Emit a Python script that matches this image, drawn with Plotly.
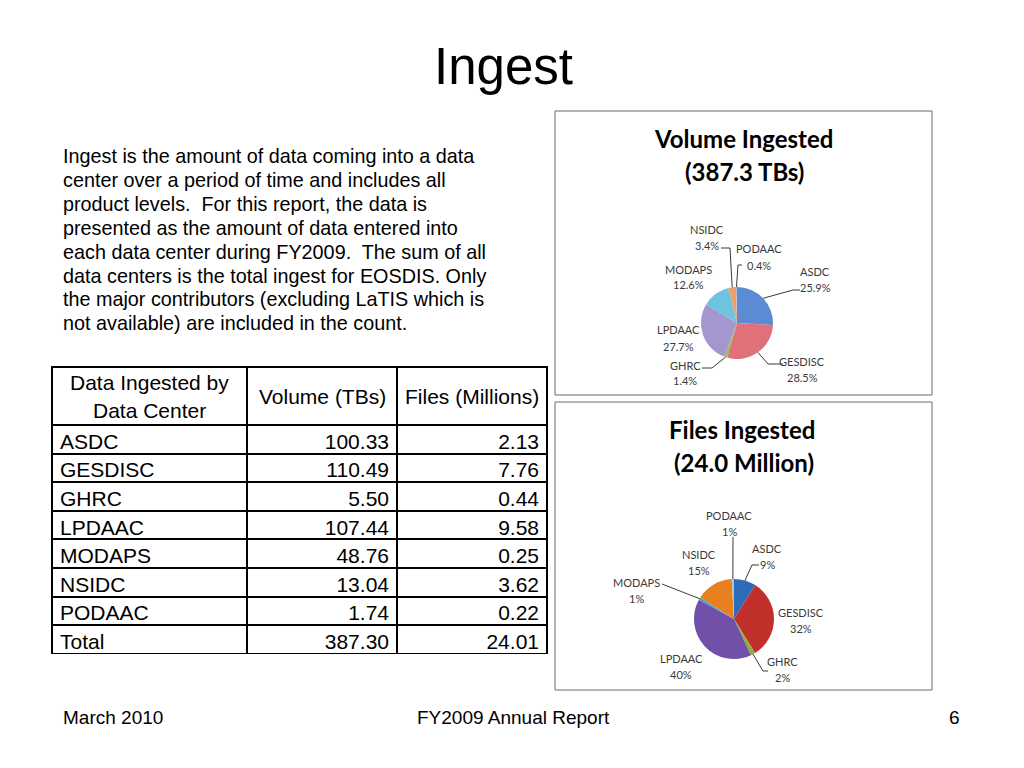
import math
import plotly.graph_objects as go

W, H = 1024, 768
OFF = 8  # page body margin in the browser

# ---------------- data ----------------
centers = ["ASDC", "GESDISC", "GHRC", "LPDAAC", "MODAPS", "NSIDC", "PODAAC"]
volume_tb = [100.33, 110.49, 5.50, 107.44, 48.76, 13.04, 1.74]
files_m = [2.13, 7.76, 0.44, 9.58, 0.25, 3.62, 0.22]
volume_total = 387.30
files_total = 24.01

title_text = "Ingest"
paragraph_lines = [
    "Ingest is the amount of data coming into a data",
    "center over a period of time and includes all",
    "product levels.\u00a0 For this report, the data is",
    "presented as the amount of data entered into",
    "each data center during FY2009.\u00a0 The sum of all",
    "data centers is the total ingest for EOSDIS. Only",
    "the major contributors (excluding LaTIS which is",
    "not available) are included in the count.",
]
table_header = [["Data Ingested by", "Data Center"], ["Volume (TBs)"], ["Files (Millions)"]]
footer_left, footer_mid, footer_right = "March 2010", "FY2009 Annual Report", "6"

vol_colors = ["#5B8BD3", "#E0707A", "#9DBB5C", "#A596D0", "#6CC4DE", "#EDA06A", "#A8B8D8"]
file_colors = ["#2D6CB8", "#C2302C", "#8CB040", "#7050A8", "#3FA8C8", "#E8801E", "#B4BED4"]

FONT = "Liberation Sans"
LFONT = "Lato"
LABEL_COLOR = "#3a3a3a"


def px(x):
    return (x - OFF) / W


def py(y):
    return 1 - (y - OFF) / H


fig = go.Figure()

# ---------------- table ----------------
tbl_x0, tbl_x1, tbl_y0, tbl_y1 = 52, 547, 367, 654
col_w = [195, 150, 150]
fig.add_trace(go.Table(
    domain=dict(x=[px(tbl_x0), px(tbl_x1)], y=[py(tbl_y1), py(tbl_y0)]),
    columnwidth=col_w,
    header=dict(
        values=["", "", ""],
        align="center",
        height=58,
        fill_color="white",
        line=dict(color="black", width=2),
        font=dict(family=FONT, size=21, color="black"),
    ),
    cells=dict(
        values=[
            centers + ["Total"],
            [f"{v:.2f}" for v in volume_tb] + [f"{volume_total:.2f}"],
            [f"{v:.2f}" for v in files_m] + [f"{files_total:.2f}"],
        ],
        align=["left", "right", "right"],
        height=28.6,
        fill_color="white",
        line=dict(color="black", width=2),
        font=dict(family=FONT, size=21, color="black"),
    ),
))

annotations = []
shapes = []

# header labels, vertically centred in the header cells
xc = tbl_x0
for lines, w in zip(table_header, col_w):
    cx = xc + w / 2
    n = len(lines)
    for j, t in enumerate(lines):
        yy = tbl_y0 + 29 + (j - (n - 1) / 2) * 28
        annotations.append(dict(text=t, x=px(cx), y=py(yy), xref="paper", yref="paper",
                                xanchor="center", yanchor="middle", showarrow=False,
                                font=dict(family=FONT, size=21, color="black")))
    xc += w

# ---------------- pies ----------------
pie_specs = [
    dict(values=volume_tb, total=volume_total, colors=vol_colors, cx=737, cy=323, r=36, fmt="{:.1f}%"),
    dict(values=files_m, total=files_total, colors=file_colors, cx=734, cy=619, r=40, fmt="{:.0f}%"),
]
for sp in pie_specs:
    fig.add_trace(go.Pie(
        labels=centers,
        values=sp["values"],
        sort=False,
        direction="clockwise",
        rotation=0,
        textinfo="none",
        hoverinfo="label+percent",
        marker=dict(colors=sp["colors"], line=dict(width=0)),
        showlegend=False,
        domain=dict(x=[px(sp["cx"] - sp["r"]), px(sp["cx"] + sp["r"])],
                    y=[py(sp["cy"] + sp["r"]), py(sp["cy"] - sp["r"])]),
    ))

# chart frames
for (x0, y0, x1, y1) in [(555, 111, 932, 395), (555, 402, 932, 690)]:
    shapes.append(dict(type="rect", xref="paper", yref="paper",
                       x0=px(x0), x1=px(x1), y0=py(y1), y1=py(y0),
                       line=dict(color="#6a6a6a", width=1), fillcolor="rgba(0,0,0,0)"))

# chart titles
for (txt, x, y) in [("Volume Ingested", 743, 138), (f"({volume_total:.1f} TBs)", 744, 171),
                    ("Files Ingested", 742, 429), (f"({files_total:.1f} Million)", 744, 462)]:
    annotations.append(dict(text=f"<b>{txt}</b>", x=px(x), y=py(y), xref="paper", yref="paper",
                            xanchor="center", yanchor="middle", showarrow=False,
                            font=dict(family=LFONT, size=24, color="black")))

# pie label positions (pixel layout) per chart, order follows centers
label_pos = [
    [(815, 271), (802, 361), (685, 365), (678, 330), (688, 269), (707, 229), (759, 249)],
    [(767, 548), (801, 612), (782, 661), (681, 658), (636, 582), (699, 554), (729, 515)],
]
# leader line elbows (label side), None => no leader
leaders = [
    [[(800, 290), (793, 290)], [(783, 364), (768, 364)], [(702, 368), (712, 368)], None, None,
     [(721, 248), (730, 248)], [(742, 265), (738, 265)]],
    [[(759, 565), (752, 565)], None, [(768, 671), (763, 671)], None, [(662, 584)], None,
     [(733, 537)]],
]

for k, sp in enumerate(pie_specs):
    cum = 0.0
    tot = sum(sp["values"])
    for i, name in enumerate(centers):
        v = sp["values"][i]
        frac = v / tot
        mid = (cum + frac / 2) * 2 * math.pi
        cum += frac
        ex = sp["cx"] + sp["r"] * math.sin(mid)
        ey = sp["cy"] - sp["r"] * math.cos(mid)
        lx, ly = label_pos[k][i]
        pct = sp["fmt"].format(v / sp["total"] * 100)
        for txt, yy in [(name, ly), (pct, ly + 16)]:
            annotations.append(dict(text=txt, x=px(lx), y=py(yy), xref="paper", yref="paper",
                                    xanchor="center", yanchor="middle", showarrow=False,
                                    font=dict(family=LFONT, size=11, color=LABEL_COLOR)))
        if leaders[k][i]:
            pts = leaders[k][i] + [(ex, ey)]
            path = "M " + " L ".join(f"{px(a):.5f} {py(b):.5f}" for a, b in pts)
            shapes.append(dict(type="path", path=path, xref="paper", yref="paper",
                               line=dict(color=LABEL_COLOR, width=1)))

# slide title
annotations.append(dict(text=title_text, x=px(503), y=py(66), xref="paper", yref="paper",
                        xanchor="center", yanchor="middle", showarrow=False,
                        font=dict(family=FONT, size=51, color="black")))

# paragraph
for i, line in enumerate(paragraph_lines):
    annotations.append(dict(text=line, x=px(61), y=py(156 + i * 23.9), xref="paper", yref="paper",
                            xanchor="left", yanchor="middle", showarrow=False,
                            font=dict(family=FONT, size=19.8, color="black")))

# footer
for txt, x, anc in [(footer_left, 61, "left"), (footer_mid, 513, "center"), (footer_right, 962, "right")]:
    annotations.append(dict(text=txt, x=px(x), y=py(717), xref="paper", yref="paper",
                            xanchor=anc, yanchor="middle", showarrow=False,
                            font=dict(family=FONT, size=19, color="black")))

fig.update_layout(
    width=W, height=H,
    margin=dict(l=0, r=0, t=0, b=0),
    paper_bgcolor="white", plot_bgcolor="white",
    annotations=annotations, shapes=shapes,
    showlegend=False,
)

fig.write_html("out.html")
